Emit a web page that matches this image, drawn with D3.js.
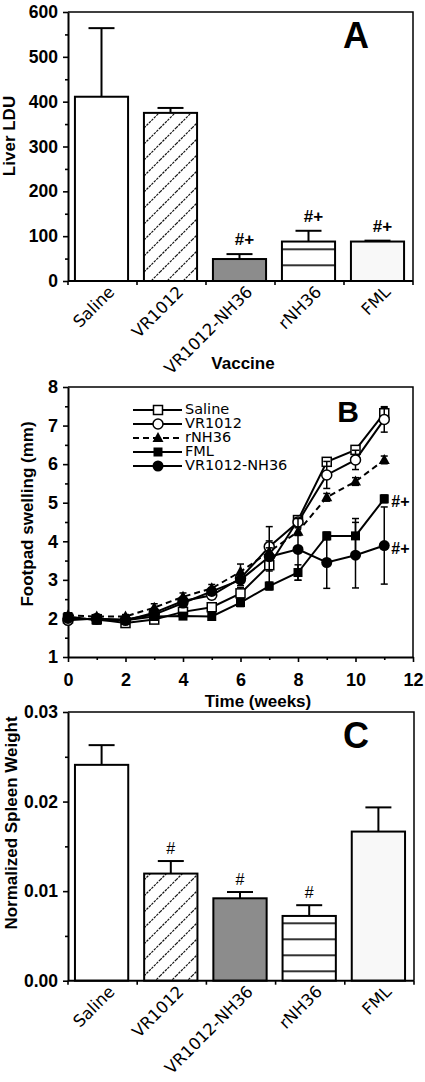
<!DOCTYPE html>
<html><head><meta charset="utf-8">
<script src="https://cdn.jsdelivr.net/npm/d3@7"></script>
<style>body{margin:0;background:#fff}svg{display:block}text{font-family:"Liberation Sans",Arial,Helvetica,sans-serif;fill:#000}</style>
</head><body><svg id="c" width="425" height="1082"></svg>
<script>
// ---------- DATA ----------
const categories = ["Saline", "VR1012", "VR1012-NH36", "rNH36", "FML"];
// Panel A: Liver LDU
const liverLDU = [411, 375, 49, 88, 88];
const liverErr = [153, 11, 11, 24, 2];
const liverSig = ["", "", "#+", "#+", "#+"];
const liverTicks = [0, 100, 200, 300, 400, 500, 600];
const liverMinor = [50, 150, 250, 350, 450, 550];
// Panel B: Footpad swelling (mm)
const weeks = [0, 1, 2, 3, 4, 5, 6, 7, 8, 9, 10, 11];
const salineB = [2.00, 1.98, 1.88, 1.97, 2.17, 2.29, 2.65, 3.38, 4.55, 6.06, 6.37, 7.32];
const salineBErr = [0.05, 0.05, 0.05, 0.05, 0.1, 0.1, 0.15, 0.15, 0.1, 0.1, 0.1, 0.15];
const vr1012B = [1.95, 2.00, 1.95, 2.15, 2.45, 2.60, 3.04, 3.86, 4.50, 5.72, 6.11, 7.16];
const vr1012BErr = [0.05, 0.05, 0.05, 0.1, 0.1, 0.1, 0.1, 0.15, 0.1, 0.35, 0.25, 0.33];
const rnh36B = [2.08, 2.05, 2.05, 2.28, 2.56, 2.78, 3.21, 3.73, 4.25, 5.14, 5.55, 6.11];
const rnh36BErr = [0.05, 0.05, 0.05, 0.1, 0.1, 0.1, 0.2, 0.1, 0.1, 0.1, 0.1, 0.1];
const fmlB = [2.05, 1.95, 1.95, 2.05, 2.06, 2.05, 2.41, 2.84, 3.19, 4.14, 4.14, 5.10];
const fmlBErr = [0.05, 0.05, 0.05, 0.05, 0.05, 0.05, 0.1, 0.1, 0.2, 0.1, 0.45, 0.1];
const nh36B = [2.00, 1.98, 1.97, 2.10, 2.40, 2.70, 3.00, 3.60, 3.79, 3.45, 3.64, 3.89];
const nh36BErr = [0.05, 0.05, 0.05, 0.05, 0.1, 0.1, 0.15, 0.78, 0.8, 0.67, 0.85, 1.0];
const seriesNames = ["Saline", "VR1012", "rNH36", "FML", "VR1012-NH36"];
const seriesSig = ["", "", "", "#+", "#+"];
const swellTicks = [1, 2, 3, 4, 5, 6, 7, 8];
const swellMinor = [1.5, 2.5, 3.5, 4.5, 5.5, 6.5, 7.5];
const weekTicks = [0, 2, 4, 6, 8, 10, 12];
const weekMinor = [1, 3, 5, 7, 9, 11];
// Panel C: Normalized spleen weight
const spleen = [0.0241, 0.01196, 0.0092, 0.00723, 0.01665];
const spleenErr = [0.0022, 0.0014, 0.0007, 0.0012, 0.0027];
const spleenSig = ["", "#", "#", "#", ""];
const spleenTicks = [0, 0.01, 0.02, 0.03];
const spleenMinor = [0.005, 0.015, 0.025];

// ---------- DRAW ----------
const WIDE = '"DejaVu Sans",Verdana,sans-serif';
const svg = d3.select("#c");
const defs = svg.append("defs");
const hatch = defs.append("pattern").attr("id", "hatch").attr("patternUnits", "userSpaceOnUse")
  .attr("width", 16).attr("height", 16);
hatch.append("rect").attr("width", 16).attr("height", 16).attr("fill", "#fff");
hatch.append("path").attr("d", "M-4,4 L4,-4 M0,16 L16,0 M12,20 L20,12")
  .attr("stroke", "#111").attr("stroke-width", 1.2).attr("stroke-dasharray", "2.5,1");
function hLines(id, yOff) {
  const p = defs.append("pattern").attr("id", id).attr("patternUnits", "userSpaceOnUse")
    .attr("width", 16).attr("height", 16).attr("y", yOff);
  p.append("rect").attr("width", 16).attr("height", 16).attr("fill", "#fff");
  p.append("line").attr("x1", 0).attr("x2", 16).attr("y1", 8).attr("y2", 8)
    .attr("stroke", "#000").attr("stroke-width", 1.6);
}
hLines("hlA", 1.3);
hLines("hlC", 3.3);

function styleAxis(g, size) {
  g.select(".domain").attr("stroke", "#000").attr("stroke-width", 2);
  g.selectAll(".tick line").attr("stroke", "#000").attr("stroke-width", 1.6);
  g.selectAll(".tick text").attr("font-size", size).attr("font-weight", "bold")
    .attr("font-family", '"Liberation Sans",Arial,sans-serif').attr("fill", "#000");
}

function barPanel(o) {
  const y = d3.scaleLinear().domain(o.domain).range([o.bottom, o.top]);
  const x = d3.scaleBand().domain(categories).range([o.left - 1, o.right - 1])
    .paddingInner(0.23).paddingOuter(0.115);
  const g = svg.append("g");
  g.append("path").attr("d", `M${o.left},${o.top}H${o.right}V${o.bottom}`)
    .attr("fill", "none").attr("stroke", "#000").attr("stroke-width", 1.5);
  g.selectAll("rect.bar").data(categories).join("rect")
    .attr("x", d => x(d)).attr("width", x.bandwidth())
    .attr("y", (d, i) => y(o.values[i])).attr("height", (d, i) => y(0) - y(o.values[i]))
    .attr("fill", (d, i) => o.fills[i]).attr("stroke", "#000").attr("stroke-width", 2);
  categories.forEach((c, i) => {
    const cx = x(c) + x.bandwidth() / 2;
    const yt = y(o.values[i] + o.errs[i]);
    g.append("line").attr("x1", cx).attr("x2", cx).attr("y1", y(o.values[i])).attr("y2", yt)
      .attr("stroke", "#000").attr("stroke-width", 2);
    g.append("line").attr("x1", cx - 13).attr("x2", cx + 13).attr("y1", yt).attr("y2", yt)
      .attr("stroke", "#000").attr("stroke-width", 2);
    if (o.sig[i]) {
      g.append("text").attr("x", cx + o.sigDx).attr("y", yt - o.sigGap)
        .attr("text-anchor", "middle").attr("font-size", o.sigSize)
        .attr("font-weight", o.sigBold ? "bold" : "normal").text(o.sig[i]);
    }
    g.append("text").attr("text-anchor", "end").attr("font-size", 16.5)
      .style("font-family", WIDE)
      .attr("transform", `translate(${cx + 14},${o.bottom + 12}) rotate(-45)`).text(c);
  });
  const ga = g.append("g").attr("transform", `translate(${o.left},0)`)
    .call(d3.axisLeft(y).tickValues(o.ticks).tickSize(5).tickPadding(5).tickSizeOuter(0).tickFormat(o.fmt));
  styleAxis(ga, 17.5);
  const gm = g.append("g").attr("transform", `translate(${o.left},0)`)
    .call(d3.axisLeft(y).tickValues(o.minor).tickSize(3).tickFormat(""));
  gm.select(".domain").remove();
  gm.selectAll(".tick line").attr("stroke", "#000").attr("stroke-width", 1.6);
  g.append("line").attr("x1", o.left).attr("x2", o.right).attr("y1", o.bottom).attr("y2", o.bottom)
    .attr("stroke", "#000").attr("stroke-width", 2);
  const step = x.step();
  const bounds = categories.map(c => x(c) - step * x.paddingInner() / 2 + 1).concat([x(categories[4]) + x.bandwidth() + step * x.paddingInner() / 2 + 1]);
  g.selectAll("line.bt").data(bounds).join("line").attr("x1", d => d).attr("x2", d => d)
    .attr("y1", o.bottom).attr("y2", o.bottom + 4).attr("stroke", "#000").attr("stroke-width", 1.6);
  g.append("text").attr("x", o.letterX).attr("y", o.letterY).attr("text-anchor", "middle")
    .attr("font-size", o.letterSize).attr("font-weight", "bold").text(o.letter);
  g.append("text").attr("transform", `translate(${o.ylabX},${o.ylabY}) rotate(-90)`)
    .attr("text-anchor", "middle").attr("font-size", 17).attr("font-weight", "bold").text(o.ylab);
  return { x, y };
}

barPanel({
  domain: [0, 600], top: 12, bottom: 281, left: 68, right: 413,
  values: liverLDU, errs: liverErr, sig: liverSig, sigBold: true, sigGap: 9, sigDx: 5, sigSize: 17,
  fills: ["#fff", "url(#hatch)", "#8c8c8c", "url(#hlA)", "#f8f8f8"],
  ticks: liverTicks, minor: liverMinor, fmt: d3.format("d"),
  letter: "A", letterX: 356, letterY: 48, letterSize: 36,
  ylab: "Liver LDU", ylabX: 15, ylabY: 136
});
svg.append("text").attr("x", 243).attr("y", 369).attr("text-anchor", "middle")
  .attr("font-size", 17).attr("font-weight", "bold").text("Vaccine");

barPanel({
  domain: [0, 0.03], top: 712, bottom: 980.7, left: 68, right: 414,
  values: spleen, errs: spleenErr, sig: spleenSig, sigBold: false, sigGap: 7, sigDx: 0, sigSize: 16,
  fills: ["#fff", "url(#hatch)", "#8c8c8c", "url(#hlC)", "#f8f8f8"],
  ticks: spleenTicks, minor: spleenMinor, fmt: d3.format(".2f"),
  letter: "C", letterX: 356, letterY: 748, letterSize: 36,
  ylab: "Normalized Spleen Weight", ylabX: 17, ylabY: 823
});

// ---------- Panel B ----------
const xB = d3.scaleLinear().domain([0, 12]).range([68, 413]);
const yB = d3.scaleLinear().domain([1, 8]).range([657, 387]);
const gB = svg.append("g");
gB.append("path").attr("d", `M68,387H413V657`).attr("fill", "none").attr("stroke", "#000").attr("stroke-width", 1.5);
const ayB = gB.append("g").attr("transform", "translate(68,0)")
  .call(d3.axisLeft(yB).tickValues(swellTicks).tickSize(5).tickPadding(5).tickSizeOuter(0).tickFormat(d3.format("d")));
styleAxis(ayB, 18);
const myB = gB.append("g").attr("transform", "translate(68,0)")
  .call(d3.axisLeft(yB).tickValues(swellMinor).tickSize(3).tickFormat(""));
myB.select(".domain").remove(); myB.selectAll(".tick line").attr("stroke", "#000").attr("stroke-width", 1.6);
const axB = gB.append("g").attr("transform", "translate(0,657)")
  .call(d3.axisBottom(xB).tickValues(weekTicks).tickSize(5).tickPadding(11).tickSizeOuter(0).tickFormat(d3.format("d")));
styleAxis(axB, 18);
const mxB = gB.append("g").attr("transform", "translate(0,657)")
  .call(d3.axisBottom(xB).tickValues(weekMinor).tickSize(3).tickFormat(""));
mxB.select(".domain").remove(); mxB.selectAll(".tick line").attr("stroke", "#000").attr("stroke-width", 1.6);

gB.append("text").attr("x", 258).attr("y", 707).attr("text-anchor", "middle")
  .attr("font-size", 17).attr("font-weight", "bold").text("Time (weeks)");
gB.append("text").attr("transform", "translate(33,514) rotate(-90)").attr("text-anchor", "middle")
  .attr("font-size", 17).attr("font-weight", "bold").text("Footpad swelling (mm)");
gB.append("text").attr("x", 348).attr("y", 422).attr("text-anchor", "middle")
  .attr("font-size", 30).attr("font-weight", "bold").text("B");

function marker(g, type, x, y) {
  if (type === "sqOpen") g.append("rect").attr("x", x - 4.5).attr("y", y - 4.5).attr("width", 9).attr("height", 9)
    .attr("fill", "#fff").attr("stroke", "#000").attr("stroke-width", 1.5);
  else if (type === "circOpen") g.append("circle").attr("cx", x).attr("cy", y).attr("r", 5)
    .attr("fill", "#fff").attr("stroke", "#000").attr("stroke-width", 1.5);
  else if (type === "tri") g.append("path").attr("d", `M${x},${y - 6}L${x + 5.5},${y + 4}L${x - 5.5},${y + 4}Z`).attr("fill", "#000");
  else if (type === "sqFill") g.append("rect").attr("x", x - 4.5).attr("y", y - 4.5).attr("width", 9).attr("height", 9).attr("fill", "#000");
  else g.append("circle").attr("cx", x).attr("cy", y).attr("r", 5.5).attr("fill", "#000");
}

const seriesVals = [salineB, vr1012B, rnh36B, fmlB, nh36B];
const seriesErrs = [salineBErr, vr1012BErr, rnh36BErr, fmlBErr, nh36BErr];
const seriesMarks = ["sqOpen", "circOpen", "tri", "sqFill", "circFill"];
const seriesDash = [null, null, "6,4", null, null];
const line = d3.line().x((d, i) => xB(weeks[i])).y(d => yB(d));

seriesVals.forEach((vals, s) => {
  const g = gB.append("g");
  vals.forEach((v, i) => {
    const cx = xB(weeks[i]), e = seriesErrs[s][i];
    g.append("line").attr("x1", cx).attr("x2", cx).attr("y1", yB(v - e)).attr("y2", yB(v + e)).attr("stroke", "#000").attr("stroke-width", 1.5);
    [v - e, v + e].forEach(w => g.append("line").attr("x1", cx - 3.5).attr("x2", cx + 3.5).attr("y1", yB(w)).attr("y2", yB(w)).attr("stroke", "#000").attr("stroke-width", 1.5));
  });
  g.append("path").datum(vals).attr("d", line).attr("fill", "none").attr("stroke", "#000")
    .attr("stroke-width", 2).attr("stroke-dasharray", seriesDash[s]);
  vals.forEach((v, i) => marker(g, seriesMarks[s], xB(weeks[i]), yB(v)));
  if (seriesSig[s]) {
    const last = vals.length - 1;
    g.append("text").attr("x", xB(weeks[last]) + 7).attr("y", yB(vals[last]) + 8)
      .attr("font-size", 16).attr("font-weight", "bold").text(seriesSig[s]);
  }
});

// legend
const lg = gB.append("g");
seriesNames.forEach((n, s) => {
  const ly = 410 + s * 14;
  lg.append("line").attr("x1", 133).attr("x2", 182).attr("y1", ly).attr("y2", ly)
    .attr("stroke", "#000").attr("stroke-width", 2).attr("stroke-dasharray", seriesDash[s]);
  marker(lg, seriesMarks[s], 158, ly);
  lg.append("text").attr("x", 185).attr("y", ly + 4).attr("font-size", 14.5)
    .style("font-family", WIDE).text(n);
});
</script></body></html>
